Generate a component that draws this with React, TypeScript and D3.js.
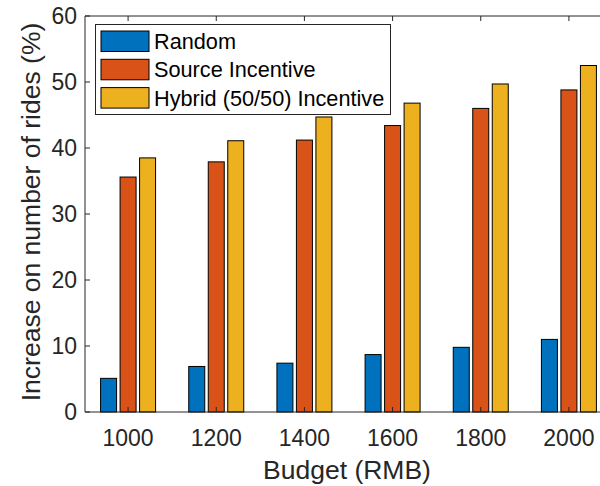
import React from 'react';
import * as d3 from 'd3';

const budgets = ['1000', '1200', '1400', '1600', '1800', '2000'];
const seriesNames = ['Random', 'Source Incentive', 'Hybrid (50/50) Incentive'];
const randomVals = [5.1, 6.9, 7.4, 8.7, 9.8, 11.0];
const sourceVals = [35.6, 37.9, 41.2, 43.4, 46.0, 48.8];
const hybridVals = [38.5, 41.1, 44.7, 46.8, 49.7, 52.5];
const yTicks = [0, 10, 20, 30, 40, 50, 60];
const colors = ['#0072BD', '#D95319', '#EDB120'];

const W = 600;
const H = 486;
const font = '"Liberation Sans", Arial, Helvetica, sans-serif';
const axisColor = '#262626';

const App = () => {
  // plot box (right edge falls outside the picture like the original)
  const margin = { left: 85, top: 16, bottom: 412, right: 613 };
  const values = [randomVals, sourceVals, hybridVals];

  const x = d3.scaleBand().domain(budgets).range([margin.left - 1, margin.right]).padding(0);
  const inner = d3.scalePoint().domain(seriesNames).range([-29.25, 29.25]).padding(0.5);
  const y = d3.scaleLinear().domain([0, 60]).range([margin.bottom, margin.top]);
  const barW = 16;
  const tickLen = 5;

  return (
    <svg width={W} height={H} style={{ position: 'absolute', left: 0, top: 0 }}>
      <rect width={W} height={H} fill="#fff" />

      {/* bars */}
      {values.map((vals, si) =>
        vals.map((v, i) => {
          const cx = (x(budgets[i]) as number) + x.bandwidth() / 2 + (inner(seriesNames[si]) as number);
          return (
            <rect
              key={`${si}-${i}`}
              x={cx - barW / 2}
              y={y(v)}
              width={barW}
              height={y(0) - y(v)}
              fill={colors[si]}
              stroke="#000"
              strokeWidth={1}
            />
          );
        })
      )}

      {/* axes box */}
      <g stroke={axisColor} strokeWidth={1} fill="none">
        <line x1={margin.left} x2={W} y1={y(0)} y2={y(0)} />
        <line x1={margin.left} x2={W} y1={y(60)} y2={y(60)} />
        <line x1={margin.left} x2={margin.left} y1={y(0)} y2={y(60)} />
        {yTicks.map(t => (
          <line key={t} x1={margin.left} x2={margin.left + tickLen} y1={y(t)} y2={y(t)} />
        ))}
        {budgets.map(b => {
          const cx = (x(b) as number) + x.bandwidth() / 2;
          return (
            <g key={b}>
              <line x1={cx} x2={cx} y1={y(0)} y2={y(0) - tickLen} />
              <line x1={cx} x2={cx} y1={y(60)} y2={y(60) + tickLen} />
            </g>
          );
        })}
      </g>

      {/* tick labels */}
      <g fontFamily={font} fontSize={23} fill={axisColor}>
        {yTicks.map(t => (
          <text key={t} x={77} y={y(t)} textAnchor="end" dominantBaseline="central">{t}</text>
        ))}
        {budgets.map(b => (
          <text key={b} x={(x(b) as number) + x.bandwidth() / 2} y={446} textAnchor="middle">{b}</text>
        ))}
      </g>

      {/* axis labels */}
      <text x={347} y={479} textAnchor="middle" fontFamily={font} fontSize={26.5} fill={axisColor}>
        Budget (RMB)
      </text>
      <text
        transform={`translate(40, ${(y(0) + y(60)) / 2 - 2}) rotate(-90)`}
        textAnchor="middle"
        fontFamily={font}
        fontSize={26.5}
        fill={axisColor}
      >
        Increase on number of rides (%)
      </text>

      {/* legend */}
      <g fontFamily={font} fontSize={21.7}>
        <rect x={95.5} y={24.5} width={295} height={90} fill="#fff" stroke={axisColor} strokeWidth={1} />
        {seriesNames.map((s, i) => (
          <g key={s} transform={`translate(0, ${31 + i * 28.3})`}>
            <rect x={101} y={0} width={48} height={20.5} fill={colors[i]} stroke="#000" strokeWidth={1} />
            <text x={154} y={18} fill="#000">{s}</text>
          </g>
        ))}
      </g>
    </svg>
  );
};

export default App;
